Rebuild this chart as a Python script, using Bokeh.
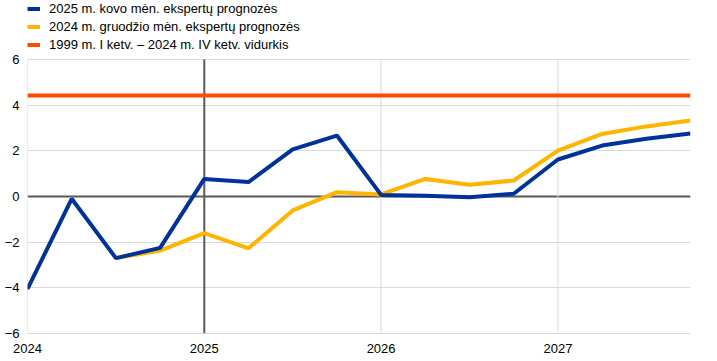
from bokeh.plotting import figure
from bokeh.models import Range1d, FixedTicker, Span, Legend, LegendItem
from bokeh.embed import file_html
from bokeh.resources import INLINE

# Quarters as decimal years (2024 Q1 ... 2027 Q4)
quarters = [2024.0, 2024.25, 2024.5, 2024.75,
            2025.0, 2025.25, 2025.5, 2025.75,
            2026.0, 2026.25, 2026.5, 2026.75,
            2027.0, 2027.25, 2027.5, 2027.75]

march_2025 = [-4.05, -0.1, -2.7, -2.25,
              0.77, 0.63, 2.06, 2.67,
              0.07, 0.03, -0.03, 0.12,
              1.62, 2.23, 2.53, 2.76]

dec_quarters = quarters[2:]
december_2024 = [-2.7, -2.37,
                 -1.6, -2.27, -0.61, 0.19,
                 0.09, 0.77, 0.51, 0.7,
                 2.01, 2.74, 3.07, 3.33]

avg_value = 4.42
avg_x = [quarters[0], quarters[-1]]

y_ticks = [-6, -4, -2, 0, 2, 4, 6]
x_ticks = [2024, 2025, 2026, 2027]

labels = ["2025 m. kovo mėn. ekspertų prognozės",
          "2024 m. gruodžio mėn. ekspertų prognozės",
          "1999 m. I ketv. – 2024 m. IV ketv. vidurkis"]

BLUE = "#003299"
YELLOW = "#FFB400"
ORANGE = "#FF4B00"
GRID = "#d9d9d9"
DARK = "#595959"
FONT = "Liberation Sans"

W, H = 717, 361
BORDER_L, BORDER_R, BORDER_B = 27, 27, 28
PLOT_TOP_PX = 59          # where the value 6 sits, from the top
frame_h = H - BORDER_B
px_per_unit = (frame_h - PLOT_TOP_PX) / (y_ticks[-1] - y_ticks[0])
y_top = y_ticks[-1] + PLOT_TOP_PX / px_per_unit

p = figure(width=W, height=H,
           x_range=Range1d(quarters[0], quarters[-1]),
           y_range=Range1d(y_ticks[0], y_top),
           min_border_left=BORDER_L, min_border_right=BORDER_R,
           min_border_top=0, min_border_bottom=BORDER_B,
           output_backend="svg", toolbar_location=None)
p.outline_line_color = None
p.background_fill_color = "white"

p.xaxis.ticker = FixedTicker(ticks=x_ticks)
p.yaxis.ticker = FixedTicker(ticks=y_ticks)
for ax in (p.xaxis, p.yaxis):
    ax.major_tick_line_color = None
    ax.minor_tick_line_color = None
    ax.major_label_text_font = FONT
    ax.major_label_text_font_size = "13px"
    ax.major_label_text_color = "#000000"
p.xaxis.axis_line_color = GRID
p.yaxis.axis_line_color = None
p.xaxis.major_label_standoff = 4
p.yaxis.major_label_standoff = 2

p.xgrid.visible = False
p.ygrid.ticker = FixedTicker(ticks=y_ticks)
p.ygrid.grid_line_color = GRID

# vertical grid lines limited to the value range
grid_x = [x for x in x_ticks if x != 2025]
p.segment(x0=grid_x, y0=[y_ticks[0]] * len(grid_x),
          x1=grid_x, y1=[y_ticks[-1]] * len(grid_x),
          line_color=GRID, line_width=1)

zero = Span(location=0, dimension="width", line_color=DARK, line_width=2, level="underlay")
p.add_layout(zero)
p.segment(x0=[2025], y0=[y_ticks[0]], x1=[2025], y1=[y_ticks[-1]],
          line_color=DARK, line_width=2)

r_avg = p.line(avg_x, [avg_value, avg_value], line_color=ORANGE, line_width=4)
r_dec = p.line(dec_quarters, december_2024, line_color=YELLOW, line_width=4)
r_mar = p.line(quarters, march_2025, line_color=BLUE, line_width=4)

legend = Legend(items=[LegendItem(label=labels[0], renderers=[r_mar]),
                       LegendItem(label=labels[1], renderers=[r_dec]),
                       LegendItem(label=labels[2], renderers=[r_avg])],
                location=(0, frame_h - 53), margin=0, padding=0, spacing=1,
                glyph_width=13, glyph_height=17, label_height=17,
                label_standoff=9,
                label_text_font=FONT, label_text_font_size="13px",
                label_text_color="#000000",
                border_line_color=None, background_fill_alpha=0)
p.add_layout(legend, "center")

open("out.html", "w").write(file_html(p, INLINE))
